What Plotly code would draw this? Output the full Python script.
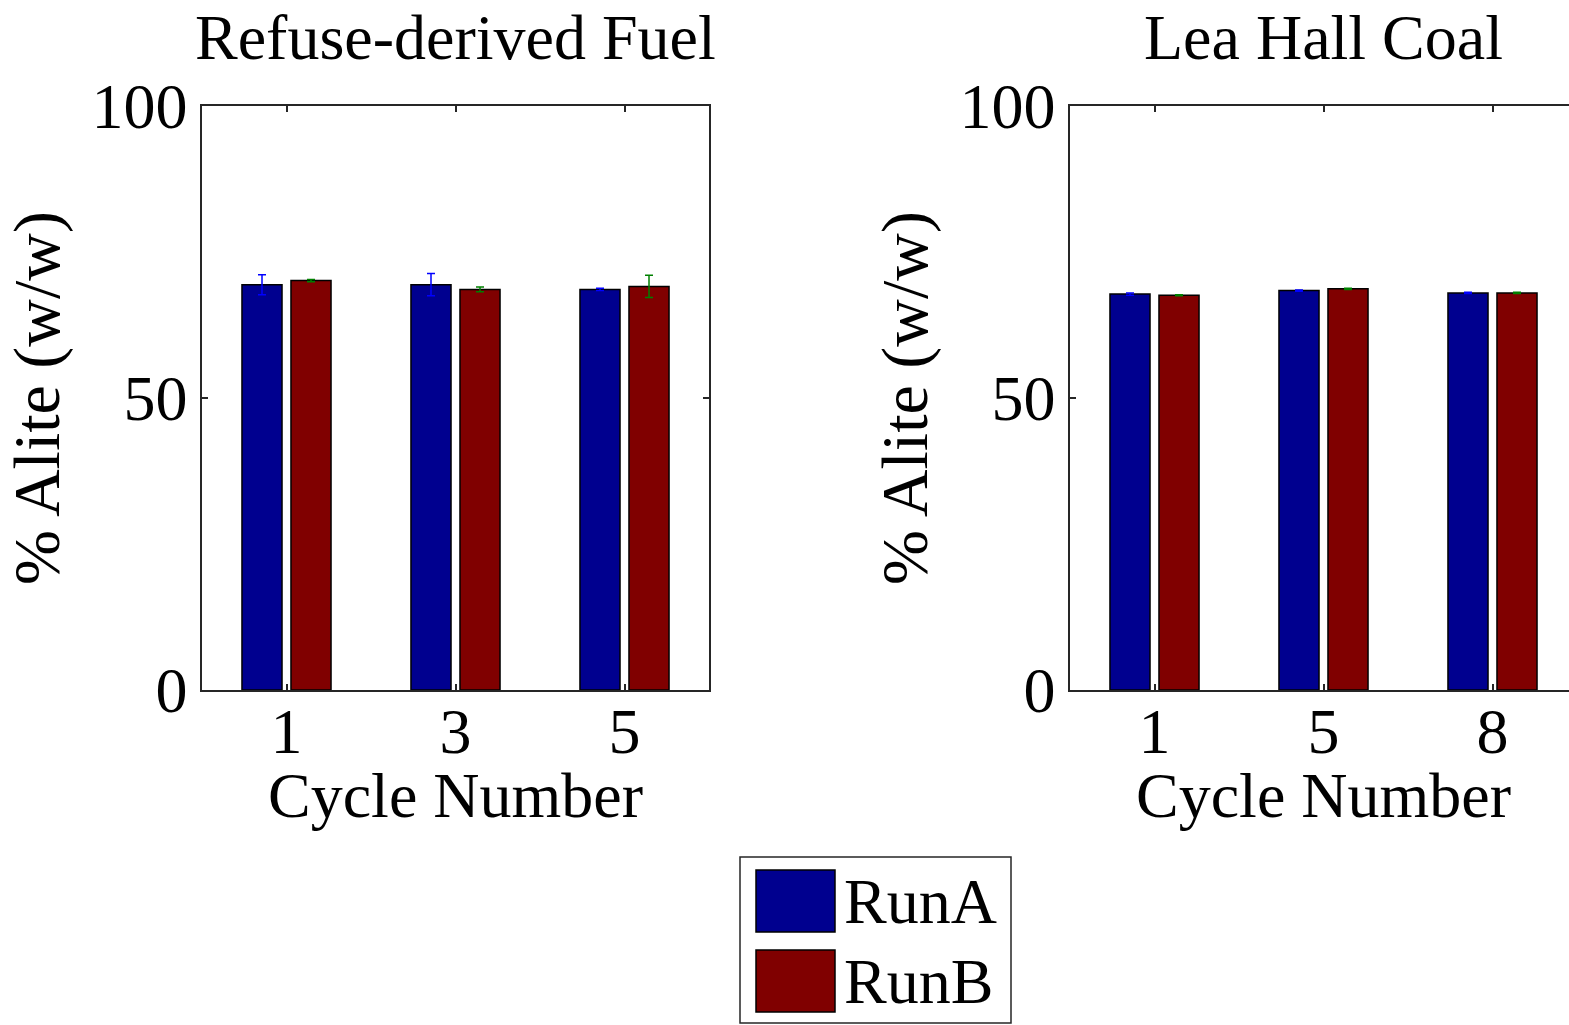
import plotly.graph_objects as go

# ---- data ----
rdf_cycles = ["1", "3", "5"]
rdf_runA = [69.4, 69.4, 68.6]
rdf_runA_err = [1.7, 1.9, 0.2]
rdf_runB = [70.1, 68.6, 69.1]
rdf_runB_err = [0.2, 0.4, 1.9]

lhc_cycles = ["1", "5", "8"]
lhc_runA = [67.8, 68.4, 68.0]
lhc_runA_err = [0.2, 0.1, 0.1]
lhc_runB = [67.6, 68.7, 68.0]
lhc_runB_err = [0.1, 0.1, 0.1]

titles = ["Refuse-derived Fuel", "Lea Hall Coal"]
x_title = "Cycle Number"
y_title = "% Alite (w/w)"
series_names = ["RunA", "RunB"]
colA = "#00008F"
colB = "#800000"
errA = "#0000FF"
errB = "#008000"

W, H = 1569, 1025
FONT = "Liberation Serif"
FS = 64

fig = go.Figure()

bar_w = 0.237
offA = -0.2635
offB = 0.0265

def add_pair(xs, a, ae, b, be, xa, ya):
    fig.add_trace(go.Bar(x=xs, y=a, name=series_names[0], width=bar_w, offset=offA,
                         marker=dict(color=colA, line=dict(color="black", width=1.5)),
                         error_y=dict(type="data", array=ae, color=errA, thickness=1.5, width=4),
                         xaxis=xa, yaxis=ya, showlegend=False))
    fig.add_trace(go.Bar(x=xs, y=b, name=series_names[1], width=bar_w, offset=offB,
                         marker=dict(color=colB, line=dict(color="black", width=1.5)),
                         error_y=dict(type="data", array=be, color=errB, thickness=1.5, width=4),
                         xaxis=xa, yaxis=ya, showlegend=False))

add_pair(rdf_cycles, rdf_runA, rdf_runA_err, rdf_runB, rdf_runB_err, "x", "y")
add_pair(lhc_cycles, lhc_runA, lhc_runA_err, lhc_runB, lhc_runB_err, "x2", "y2")

y0 = 1 - 690 / H
y1 = 1 - 106 / H
axline = dict(showline=True, linecolor="#262626", linewidth=1.5, ticks="inside",
              ticklen=6, tickcolor="#262626", tickwidth=1.5, showgrid=False, zeroline=False,
              automargin=False,
              tickfont=dict(family=FONT, size=FS, color="black"))

fig.update_layout(
    width=W, height=H, margin=dict(l=0, r=0, t=0, b=0, autoexpand=False),
    paper_bgcolor="white", plot_bgcolor="white", barmode="group",
    font=dict(family=FONT, size=FS, color="black"),
    xaxis=dict(domain=[202 / W, 709 / W], type="category", range=[-0.5, 2.5], mirror="ticks",
               ticklabelstandoff=-16, anchor="y", **axline),
    yaxis=dict(domain=[y0, y1], range=[0, 100], tickvals=[0, 50, 100], mirror="ticks",
               title=dict(text=y_title, font=dict(family=FONT, size=66), standoff=10),
               anchor="x", **axline),
    xaxis2=dict(domain=[1070 / W, 1.0], type="category", range=[-0.5, 2.5 - 8 / 169], mirror="ticks",
                ticklabelstandoff=-16, anchor="y2", **axline),
    yaxis2=dict(domain=[y0, y1], range=[0, 100], tickvals=[0, 50, 100], mirror=False,
                title=dict(text=y_title, font=dict(family=FONT, size=66), standoff=10),
                anchor="x2", **axline),
)

def px(x): return x / W
def py(y): return 1 - y / H

# subplot titles and x-axis titles
for cx, t in [((202 + 709) / 2 / W, titles[0]), ((1070 + 1577) / 2 / W, titles[1])]:
    fig.add_annotation(text=t, x=cx, y=1.0, xref="paper", yref="paper",
                       xanchor="center", yanchor="top", showarrow=False,
                       font=dict(family=FONT, size=FS, color="black"))
    fig.add_annotation(text=x_title, x=cx, y=py(795), xref="paper", yref="paper",
                       xanchor="center", yanchor="middle", showarrow=False,
                       font=dict(family=FONT, size=FS, color="black"))

# custom legend (large swatches like the original)
fig.add_shape(type="rect", xref="paper", yref="paper", x0=px(740), x1=px(1011), y0=py(1023), y1=py(857),
              line=dict(color="#262626", width=1.5), fillcolor="white")
for (top, bot, col, name) in [(870, 932, colA, series_names[0]), (950, 1012, colB, series_names[1])]:
    fig.add_shape(type="rect", xref="paper", yref="paper", x0=px(756), x1=px(835), y0=py(bot), y1=py(top),
                  line=dict(color="black", width=1.5), fillcolor=col)
    fig.add_annotation(text=name, x=px(842), y=py((top + bot) / 2), xref="paper", yref="paper",
                       xanchor="left", yanchor="middle", showarrow=False,
                       font=dict(family=FONT, size=FS, color="black"))

fig.write_html("out.html")
